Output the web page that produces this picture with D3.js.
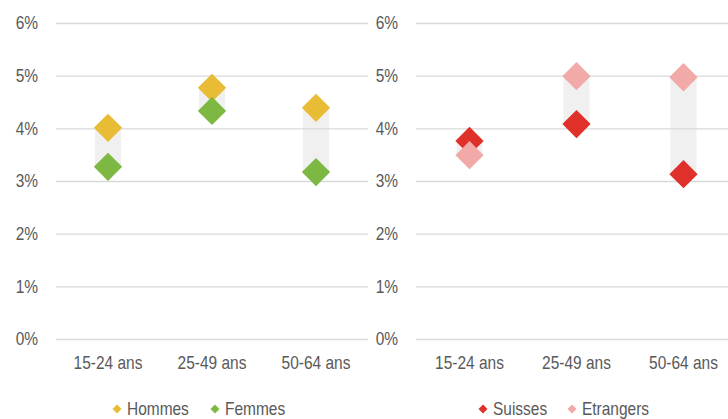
<!DOCTYPE html>
<html>
<head>
<meta charset="utf-8">
<script src="https://cdn.jsdelivr.net/npm/d3@7"></script>
<style>
  body { margin: 0; background: #fff; }
  svg { display: block; font-family: "Liberation Sans Narrow", "Arial Narrow", "Liberation Sans", Arial, sans-serif; }
</style>
</head>
<body>
<svg id="chart" width="728" height="419"></svg>
<script>
// data
const categories = ['15-24 ans', '25-49 ans', '50-64 ans'];
const hommes = [4.01, 4.77, 4.39];
const femmes = [3.27, 4.33, 3.17];
const suisses = [3.76, 4.08, 3.13];
const etrangers = [3.49, 4.99, 4.97];
const yTicks = [0, 1, 2, 3, 4, 5, 6];

// narrow look: squeeze the regular sans horizontally
const sx = 0.86;
const fontSize = '18px';
const textColor = '#595959';

const svg = d3.select('#chart');

// one panel = two series around a grey range bar
function panel(opts) {
  const y = d3.scaleLinear().domain([0, 6]).range([339, 23]);
  const x = d3.scaleBand().domain(categories).range(opts.range);

  const g = svg.append('g');

  // range bars
  g.append('g')
    .selectAll('rect')
    .data(categories)
    .join('rect')
    .attr('x', (d) => x(d) + x.bandwidth() / 2 - 13)
    .attr('width', 26)
    .attr('y', (d, i) => y(Math.max(opts.a[i], opts.b[i])))
    .attr('height', (d, i) => Math.abs(y(opts.a[i]) - y(opts.b[i])))
    .attr('fill', '#f0f0f0');

  // y axis / grid
  const yAxis = d3.axisLeft(y)
    .tickValues(yTicks)
    .tickFormat((d) => d + '%')
    .tickSize(-(opts.gridEnd - opts.range[0]));
  g.append('g')
    .attr('transform', `translate(${opts.range[0]},0)`)
    .call(yAxis)
    .call((s) => s.select('.domain').remove())
    .call((s) => s.selectAll('line').attr('stroke', '#d9d9d9').attr('stroke-width', 1.3))
    .call((s) => s.selectAll('text')
      .attr('x', (opts.labelX - opts.range[0]) / sx)
      .attr('transform', `scale(${sx},1)`)
      .attr('fill', textColor)
      .style('font-size', fontSize));

  // x axis
  g.append('g')
    .attr('transform', `translate(0,339)`)
    .call(d3.axisBottom(x).tickSize(0).tickPadding(17))
    .call((s) => s.select('.domain').remove())
    .call((s) => s.selectAll('text')
      .attr('transform', `scale(${sx},1)`)
      .attr('fill', textColor)
      .style('font-size', fontSize));

  // markers
  const sym = d3.symbol(d3.symbolSquare, 400);
  [[opts.a, opts.colors[0]], [opts.b, opts.colors[1]]].forEach(([vals, col]) => {
    g.append('g')
      .selectAll('path')
      .data(categories)
      .join('path')
      .attr('d', sym)
      .attr('fill', col)
      .attr('transform', (d, i) => `translate(${x(d) + x.bandwidth() / 2},${y(vals[i])}) rotate(45)`);
  });

  // legend
  const lg = g.append('g').attr('transform', `translate(0,409)`);
  const small = d3.symbol(d3.symbolSquare, 40);
  opts.names.forEach((name, i) => {
    lg.append('path')
      .attr('d', small)
      .attr('fill', opts.colors[i])
      .attr('transform', `translate(${opts.legendX[i]},0) rotate(45)`);
    lg.append('text')
      .attr('transform', `translate(${opts.legendX[i] + 10},0) scale(${sx},1)`)
      .attr('dy', '0.35em')
      .attr('fill', textColor)
      .style('font-size', fontSize)
      .text(name);
  });
}

panel({
  range: [56, 368], gridEnd: 368, labelX: 38,
  a: hommes, b: femmes,
  colors: ['#e8bd35', '#7db843'],
  names: ['Hommes', 'Femmes'],
  legendX: [117, 215]
});

panel({
  range: [416, 737], gridEnd: 728, labelX: 398,
  a: suisses, b: etrangers,
  colors: ['#e0302a', '#f2aaa9'],
  names: ['Suisses', 'Etrangers'],
  legendX: [483, 572]
});
</script>
</body>
</html>
